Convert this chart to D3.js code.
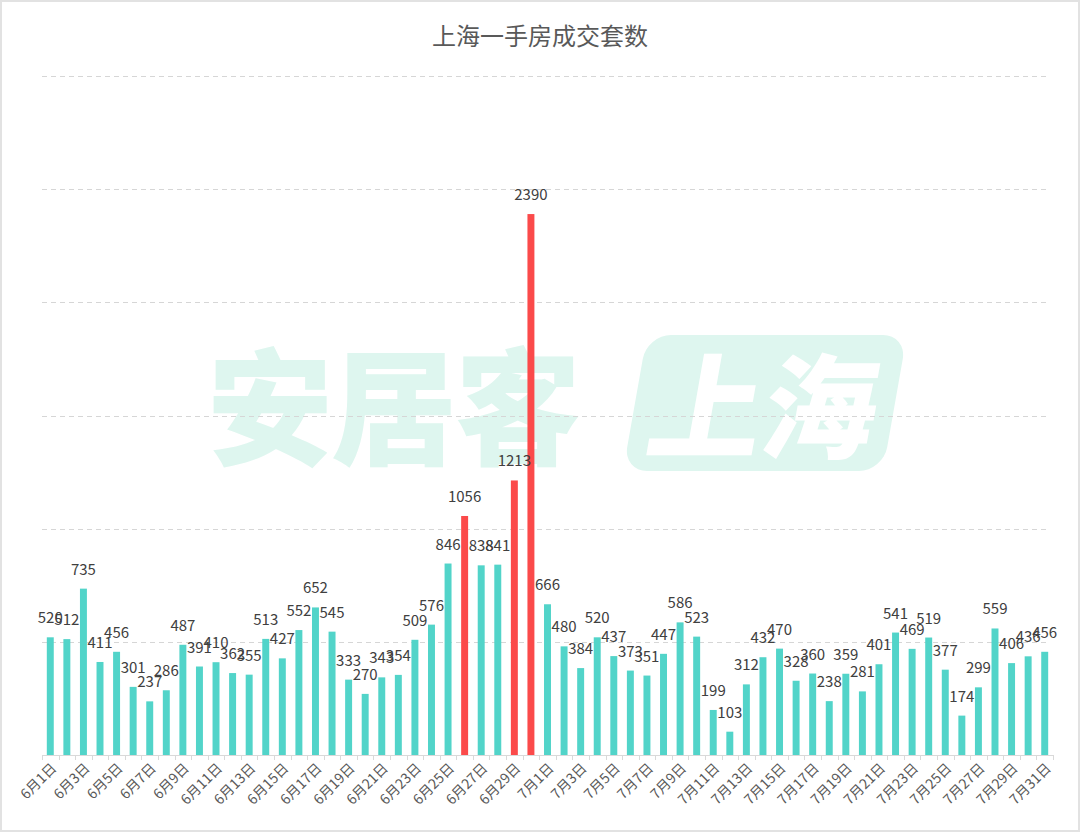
<!DOCTYPE html>
<html lang="zh">
<head>
  <meta charset="UTF-8">
  <title>上海一手房成交套数</title>
  <script src="https://cdn.jsdelivr.net/npm/d3@7.9.0/dist/d3.min.js"></script>
  <style>
    html, body { margin: 0; padding: 0; background: #fff; }
    #chart { width: 1080px; height: 832px; }
    text { font-family: "Noto Sans CJK SC", "Noto Sans", sans-serif; }
  </style>
</head>
<body>
<div id="chart"></div>
<script>
  // June 1 - July 31 daily new-home transactions
  const juneValues = [520, 512, 735, 411, 456, 301, 237, 286, 487, 391,
                      410, 362, 355, 513, 427, 552, 652, 545, 333, 270,
                      343, 354, 509, 576, 846, 1056, 838, 841, 1213, 2390];
  const julyValues = [666, 480, 384, 520, 437, 373, 351, 447, 586, 523,
                      199, 103, 312, 432, 470, 328, 360, 238, 359, 281,
                      401, 541, 469, 519, 377, 174, 299, 559, 406, 436, 456];
  const highlightDays = ["6月26日", "6月29日", "6月30日"];
  const yTicks = [0, 500, 1000, 1500, 2000, 2500, 3000];

  const categories = [
    ...juneValues.map((_, i) => `6月${i + 1}日`),
    ...julyValues.map((_, i) => `7月${i + 1}日`)
  ];
  const values = [...juneValues, ...julyValues];
  const data = categories.map((c, i) => ({ day: c, value: values[i] }));

  const width = 1080, height = 832;
  const margin = { top: 76, right: 27, bottom: 77, left: 42 };

  const svg = d3.select("#chart").append("svg")
    .attr("width", width)
    .attr("height", height);

  // outer frame
  svg.append("rect")
    .attr("x", 1).attr("y", 1)
    .attr("width", width - 2).attr("height", height - 2)
    .attr("fill", "#fff")
    .attr("stroke", "#e2e2e2")
    .attr("stroke-width", 2);

  const x = d3.scaleBand()
    .domain(categories)
    .range([margin.left, width - margin.right])
    .paddingInner(0.58)
    .paddingOuter(0.29);

  const y = d3.scaleLinear()
    .domain([0, 3000])
    .range([height - margin.bottom, margin.top]);

  // watermark
  const wm = svg.append("g").attr("class", "watermark");
  wm.append("text")
    .attr("x", 393).attr("y", 455)
    .attr("text-anchor", "middle")
    .attr("font-size", 126)
    .attr("font-weight", 900)
    .attr("fill", "#def6ef")
    .attr("letter-spacing", -2)
    .text("安居客");
  const badge = wm.append("g")
    .attr("transform", "translate(765,403) skewX(-10)");
  badge.append("rect")
    .attr("x", -130).attr("y", -68)
    .attr("width", 260).attr("height", 136)
    .attr("rx", 24)
    .attr("fill", "#def6ef");
  badge.append("text")
    .attr("x", 0).attr("y", 47)
    .attr("text-anchor", "middle")
    .attr("font-size", 114)
    .attr("font-weight", 900)
    .attr("fill", "#fff")
    .text("上海");

  // gridlines
  svg.append("g")
    .selectAll("line")
    .data(yTicks.slice(1))
    .join("line")
    .attr("x1", margin.left)
    .attr("x2", width - margin.right - 3)
    .attr("y1", d => Math.round(y(d)) + 0.5)
    .attr("y2", d => Math.round(y(d)) + 0.5)
    .attr("stroke", "#d6d6d6")
    .attr("stroke-dasharray", "5,4");

  // bars
  svg.append("g")
    .selectAll("rect")
    .data(data)
    .join("rect")
    .attr("x", d => x(d.day))
    .attr("y", d => y(d.value))
    .attr("width", x.bandwidth())
    .attr("height", d => y(0) - y(d.value))
    .attr("fill", d => highlightDays.includes(d.day) ? "#fb4a4a" : "#52d4c9");

  // value labels
  svg.append("g")
    .selectAll("text")
    .data(data)
    .join("text")
    .attr("x", d => x(d.day) + x.bandwidth() / 2)
    .attr("y", d => y(d.value) - 14)
    .attr("text-anchor", "middle")
    .attr("font-size", 15)
    .attr("fill", "#404040")
    .text(d => d.value);

  // x axis
  const xAxis = d3.axisBottom(x)
    .tickSize(0)
    .tickFormat((d, i) => i % 2 === 0 ? d : "");
  const axisG = svg.append("g")
    .attr("transform", `translate(0,${y(0)})`)
    .call(xAxis);
  axisG.select(".domain").attr("stroke", "#d9d9d9");
  axisG.selectAll(".tick text")
    .attr("font-size", 14)
    .attr("fill", "#595959")
    .attr("text-anchor", "end")
    .attr("dy", 0)
    .attr("transform", "translate(5,12) rotate(-45)");

  // boundary tick marks between bands
  const step = x.step();
  const gap = (step - x.bandwidth()) / 2;
  const bounds = categories.map(c => x(c) - gap);
  bounds.push(x(categories[categories.length - 1]) + x.bandwidth() + gap);
  axisG.append("g")
    .selectAll("line")
    .data(bounds)
    .join("line")
    .attr("x1", d => Math.round(d) + 0.5)
    .attr("x2", d => Math.round(d) + 0.5)
    .attr("y1", 0).attr("y2", 5)
    .attr("stroke", "#d9d9d9");

  // title
  svg.append("text")
    .attr("x", width / 2)
    .attr("y", 45)
    .attr("text-anchor", "middle")
    .attr("font-size", 24)
    .attr("fill", "#595959")
    .text("上海一手房成交套数");
</script>
</body>
</html>
